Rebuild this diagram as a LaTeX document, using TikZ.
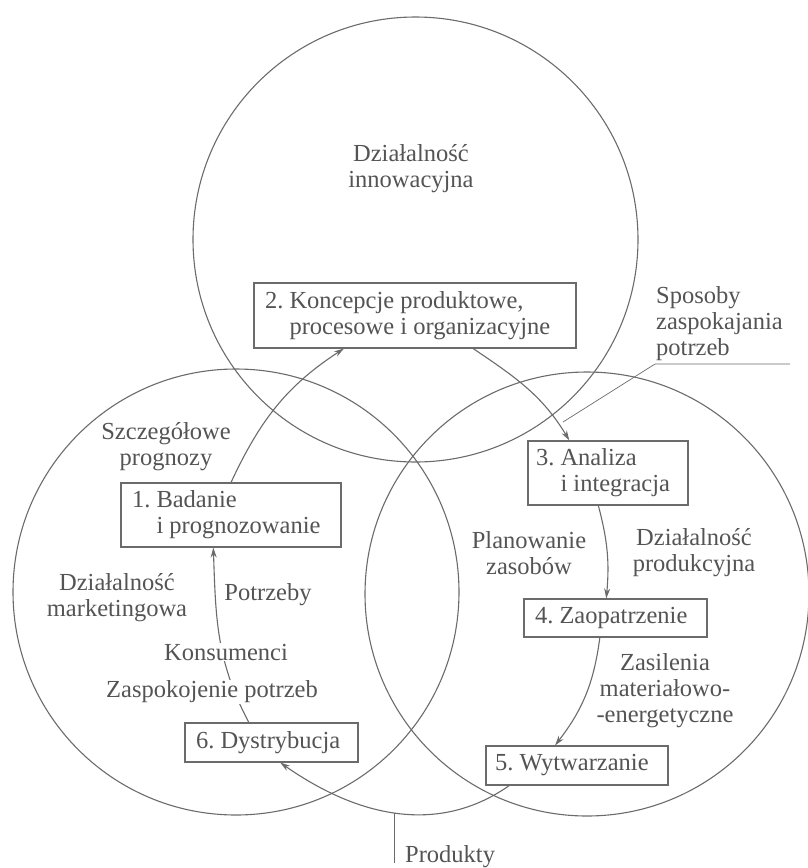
\documentclass[tikz,border=0pt]{standalone}
\usepackage{fontspec}
\setmainfont{Liberation Serif}
\usetikzlibrary{arrows.meta,calc}
\definecolor{ink}{gray}{0.33}
\definecolor{rule}{gray}{0.42}
\begin{document}
\begin{tikzpicture}[x=1pt,y=-1pt,
  font=\fontsize{24.5}{26}\selectfont\frenchspacing,
  every node/.style={text=ink},
  ring/.style={draw=rule, line width=1.1pt},
  stage/.style={draw=rule, line width=1.1pt, fill=white, align=flush left, inner xsep=11pt, inner ysep=4pt},
  flow/.style={draw=rule, line width=1.1pt, -{Stealth[length=10pt,width=6pt]}},
  lbl/.style={align=center, inner sep=1pt},
  hide/.style={lbl, fill=white}]
\useasboundingbox (0,0) rectangle (808,868);

% three fields of activity
\draw[ring] (415.5,239.5) circle[radius=222.5];
\draw[ring] (236,592) circle[radius=223];
\draw[ring] (587,594) circle[radius=222];

% stages
\node[stage, text width=198pt, minimum height=64pt] (badanie) at (231,515) {1. Badanie\\\phantom{1. }i prognozowanie};
\node[stage, text width=300pt, minimum height=65pt] (koncepcje) at (415,315.5) {2. Koncepcje produktowe,\\\phantom{2. }procesowe i organizacyjne};
\node[stage, inner xsep=8pt, text width=144pt, minimum height=64pt] (analiza) at (608,473) {3. Analiza\\\phantom{3. }i integracja};
\node[stage, text width=161pt, minimum height=38pt] (zaopatrz) at (615.5,618) {4. Zaopatrzenie};
\node[stage, inner xsep=9pt, text width=164pt, minimum height=39pt] (wytwarz) at (577,765.5) {5. Wytwarzanie};
\node[stage, text width=151pt, minimum height=39pt] (dystr) at (271.5,742.5) {6. Dystrybucja};

% labels
\node[lbl] (innow) at (411,169) {Działalność\\innowacyjna};
\node[lbl, align=left, anchor=west] (sposoby) at (655,324) {Sposoby\\zaspokajania\\potrzeb};
\node[lbl] (prognozy) at (166,447) {Szczegółowe\\prognozy};
\node[lbl] (marketing) at (117,598) {Działalność\\marketingowa};
\node[lbl] (potrzeby) at (268,595) {Potrzeby};
\node[lbl] (planow) at (529,553) {Planowanie\\zasobów};
\node[lbl] (produkc) at (694,553) {Działalność\\produkcyjna};
\node[lbl] (zasilenia) at (665,691) {Zasilenia\\materiałowo-\\-energetyczne};
\node[lbl, anchor=west] (produkty) at (404,857) {Produkty};

% flows between stages
\draw[flow] (badanie.north) to[out=65,in=213] ($(koncepcje.south west)!0.28!(koncepcje.south east)$);
\draw[flow] ($(koncepcje.south west)!0.68!(koncepcje.south east)$) to[out=-34,in=121] ($(analiza.north west)!0.26!(analiza.north east)$);
\draw[flow] ($(analiza.south west)!0.44!(analiza.south east)$) to[bend left=10] ($(zaopatrz.north west)!0.45!(zaopatrz.north east)$);
\draw[flow] ($(zaopatrz.south west)!0.415!(zaopatrz.south east)$) to[bend left=15] ($(wytwarz.north west)!0.38!(wytwarz.north east)$);
\draw[flow] ($(wytwarz.south west)!0.13!(wytwarz.south east)$) to[out=-145,in=-35] coordinate[pos=0.5] (dno) ($(dystr.south west)!0.55!(dystr.south east)$);
\draw[flow] ($(dystr.north west)!0.37!(dystr.north east)$) to[out=118,in=-88] ($(badanie.south west)!0.42!(badanie.south east)$);

% leaders
\coordinate (ul) at (655,364);
\coordinate (wskaz) at (563,422);
\draw[rule, line width=0.7pt] (wskaz) -- (ul) -- ++(135,0);
\draw[rule, line width=0.9pt] (dno) -- ++(0,50);

% labels lying over the return flow
\node[hide] (konsum) at (226,652) {Konsumenci};
\node[hide] (zaspok) at (212,692) {Zaspokojenie potrzeb};
\end{tikzpicture}
\end{document}
